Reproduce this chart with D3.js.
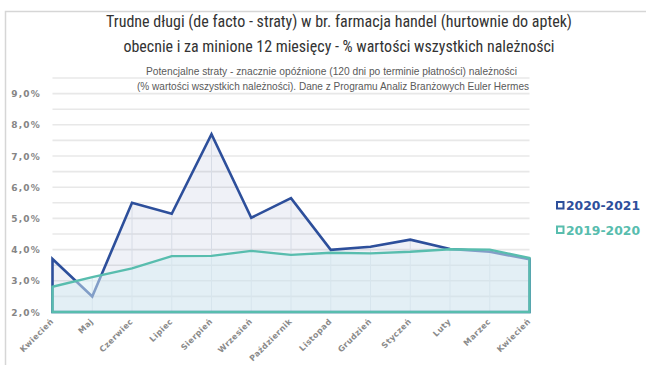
<!DOCTYPE html>
<html>
<head>
<meta charset="utf-8">
<script src="https://cdnjs.cloudflare.com/ajax/libs/d3/7.8.5/d3.min.js"></script>
<style>
  html, body { margin: 0; padding: 0; background: #fff; }
  svg { display: block; }
</style>
</head>
<body>
<svg id="chart" width="646" height="365"></svg>
<script>
// Month labels along the x axis (April to April)
const months = ["Kwiecień", "Maj", "Czerwiec", "Lipiec", "Sierpień", "Wrzesień",
  "Październik", "Listopad", "Grudzień", "Styczeń", "Luty", "Marzec", "Kwiecień"];

// Hard debts, % of all receivables
const series2020 = [3.70, 2.50, 5.50, 5.15, 7.70, 5.02, 5.65, 3.99, 4.09, 4.32, 4.02, 3.93, 3.69];
const series2019 = [2.81, 3.12, 3.40, 3.79, 3.80, 3.96, 3.83, 3.90, 3.88, 3.93, 4.01, 4.00, 3.73];

const seriesNames = ["2020-2021", "2019-2020"];
const yTicks = [2, 3, 4, 5, 6, 7, 8, 9];
const yGrid = [2, 2.5, 3, 3.5, 4, 4.5, 5, 5.5, 6, 6.5, 7, 7.5, 8, 8.5, 9, 9.5];

const titleLines = [
  "Trudne długi (de facto - straty) w br. farmacja handel (hurtownie do aptek)",
  "obecnie i za minione 12 miesięcy - % wartości wszystkich należności"
];
const subtitleLines = [
  "Potencjalne straty - znacznie opóźnione (120 dni po terminie płatności) należności",
  "(% wartości wszystkich należności). Dane z Programu Analiz Branżowych Euler Hermes"
];

const svg = d3.select("#chart");

// outer frame of the chart object
svg.append("path")
  .attr("d", "M5.5,365 V11.5 H646")
  .attr("fill", "none")
  .attr("stroke", "#d6d6d6")
  .attr("stroke-width", 1.5);

const x = d3.scaleLinear().domain([0, months.length - 1]).range([52.5, 529.5]);
const y = d3.scaleLinear().domain([2, 9.5]).range([312, 78]);

const fmt = d => d3.format(".1f")(d).replace(".", ",") + "%";

// horizontal gridlines
svg.append("g")
  .selectAll("line")
  .data(yGrid)
  .join("line")
  .attr("x1", x(0)).attr("x2", x(months.length - 1))
  .attr("y1", d => y(d)).attr("y2", d => y(d))
  .attr("stroke", "#e8e8e8")
  .attr("stroke-width", 1.6);

// titles
const title = svg.append("g")
  .attr("font-family", "'Liberation Sans Narrow', 'Roboto Condensed', 'Liberation Sans', sans-serif")
  .attr("fill", "#333")
  .attr("text-anchor", "middle");
title.selectAll("text")
  .data(titleLines)
  .join("text")
  .attr("x", 339)
  .attr("y", (d, i) => 27 + i * 25)
  .attr("font-size", 17)
  .attr("textLength", (d, i) => i === 0 ? 466 : 431)
  .attr("lengthAdjust", "spacingAndGlyphs")
  .text(d => d);

const sub = svg.append("g")
  .attr("font-family", "'Liberation Sans Narrow', 'Liberation Sans', sans-serif")
  .attr("fill", "#5a5a5a")
  .attr("text-anchor", "middle");
sub.selectAll("text")
  .data(subtitleLines)
  .join("text")
  .attr("x", (d, i) => i === 0 ? 331.5 : 333)
  .attr("y", (d, i) => 75 + i * 15)
  .attr("font-size", 11)
  .attr("textLength", (d, i) => i === 0 ? 371 : 392)
  .attr("lengthAdjust", "spacingAndGlyphs")
  .text(d => d);

// areas
const area = vals => d3.area()
  .x((d, i) => x(i))
  .y0(y(2))
  .y1(d => y(d))(vals);

// back series: 2020-2021
svg.append("path")
  .attr("d", area(series2020))
  .attr("fill", "rgba(45,79,153,0.08)")
  .attr("stroke", "none");

// drop lines from the higher series down to the axis
svg.append("g")
  .selectAll("line")
  .data(months)
  .join("line")
  .attr("x1", (d, i) => x(i)).attr("x2", (d, i) => x(i))
  .attr("y1", (d, i) => y(Math.max(series2020[i], series2019[i])))
  .attr("y2", y(2))
  .attr("stroke", "#d7dce6")
  .attr("stroke-width", 1);

// closed outline for the 2020-2021 area (sides included)
svg.append("path")
  .attr("d", area(series2020))
  .attr("fill", "none")
  .attr("stroke", "#2d4f9b")
  .attr("stroke-width", 2.6)
  .attr("stroke-linejoin", "miter");

// front series: 2019-2020, semi transparent
svg.append("path")
  .attr("d", area(series2019))
  .attr("fill", "rgba(215,237,243,0.5)")
  .attr("stroke", "#58bdae")
  .attr("stroke-width", 2.4)
  .attr("stroke-linejoin", "miter");

// y axis labels
svg.append("g")
  .attr("font-family", "'DejaVu Sans', sans-serif")
  .attr("font-weight", "bold")
  .attr("font-size", 9)
  .attr("fill", "#858585")
  .attr("text-anchor", "end")
  .selectAll("text")
  .data(yTicks)
  .join("text")
  .attr("x", 41)
  .attr("y", d => y(d) + 3.5)
  .attr("letter-spacing", 1.2)
  .text(fmt);

// x axis labels, rotated
svg.append("g")
  .attr("font-family", "'DejaVu Sans', sans-serif")
  .attr("font-weight", "bold")
  .attr("font-size", 8)
  .attr("fill", "#8a8a8a")
  .attr("text-anchor", "end")
  .selectAll("text")
  .data(months)
  .join("text")
  .attr("transform", (d, i) => `translate(${x(i) + 1.5},${y(2) + 10}) rotate(-45)`)
  .attr("letter-spacing", 0.4)
  .text(d => d);

// legend
const legColors = ["#2d4f9b", "#58bdae"];
const leg = svg.append("g");
seriesNames.forEach((name, i) => {
  const ly = 205.5 + i * 24.5;
  leg.append("rect")
    .attr("x", 557).attr("y", ly - 3.5)
    .attr("width", 6.5).attr("height", 6.5)
    .attr("fill", "#fff")
    .attr("stroke", legColors[i])
    .attr("stroke-width", 2);
  leg.append("text")
    .attr("x", 566).attr("y", ly + 4.5)
    .attr("font-family", "'DejaVu Sans', sans-serif")
    .attr("font-weight", "bold")
    .attr("font-size", 11.5)
    .attr("fill", legColors[i])
    .attr("textLength", 74)
    .attr("lengthAdjust", "spacingAndGlyphs")
    .text(name);
});
</script>
</body>
</html>
